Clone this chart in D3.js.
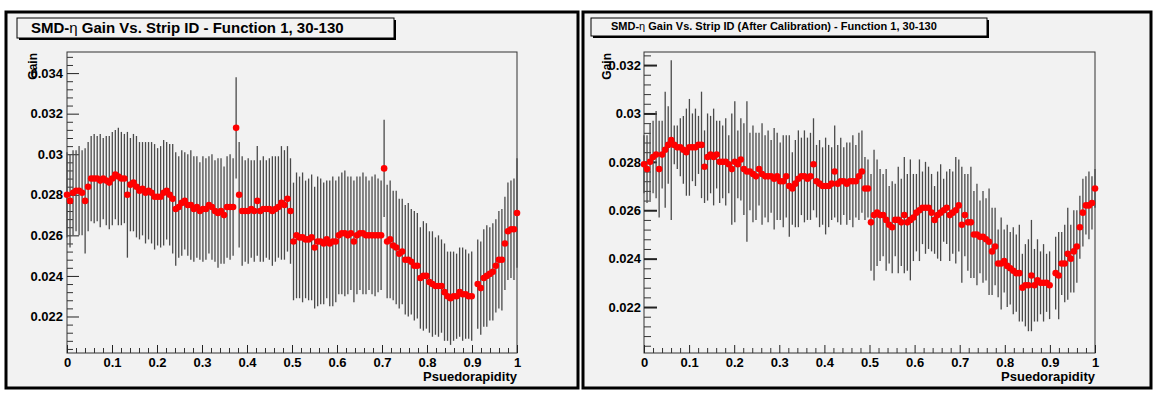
<!DOCTYPE html>
<html><head><meta charset="utf-8">
<script src="https://cdn.jsdelivr.net/npm/d3@7"></script>
<style>
body{margin:0;background:#fff}
svg{display:block}
text{font-family:"Liberation Sans",Arial,Helvetica,sans-serif;font-weight:bold;fill:#000}
</style>
</head><body>
<svg id="chart" width="1154" height="393"></svg>
<script>
// ---------------- data ----------------
const leftTitle = ["SMD-", "η", " Gain Vs. Strip ID - Function 1, 30-130"];
const rightTitle = ["SMD-", "η", " Gain Vs. Strip ID (After Calibration) - Function 1, 30-130"];
const xLabel = "Psuedorapidity";
const yLabel = "Gain";
const xTickValues = [0, 0.1, 0.2, 0.3, 0.4, 0.5, 0.6, 0.7, 0.8, 0.9, 1];
const xTickLabels = ["0", "0.1", "0.2", "0.3", "0.4", "0.5", "0.6", "0.7", "0.8", "0.9", "1"];
const leftYTickValues = [0.022, 0.024, 0.026, 0.028, 0.030, 0.032, 0.034];
const leftYTickLabels = ["0.022", "0.024", "0.026", "0.028", "0.03", "0.032", "0.034"];
const rightYTickValues = [0.022, 0.024, 0.026, 0.028, 0.030, 0.032];
const rightYTickLabels = ["0.022", "0.024", "0.026", "0.028", "0.03", "0.032"];
const stripCount = 150; // strips spread over pseudorapidity 0..1

// gain per strip (before calibration)
const leftGain = [
0.0280,0.0277,0.0281,0.0282,0.0282,0.0281,0.0277,0.0284,0.0288,0.0288,0.0288,0.0287,0.0288,0.0287,0.0286,
0.0288,0.0290,0.0289,0.0288,0.0288,0.0280,0.0285,0.0286,0.0284,0.0282,0.0283,0.0281,0.0282,0.0281,0.0279,
0.0279,0.0279,0.0281,0.0282,0.0280,0.0278,0.0273,0.0274,0.0276,0.0277,0.0275,0.0275,0.0273,0.0274,0.0272,
0.0273,0.0273,0.0275,0.0274,0.0272,0.0271,0.0272,0.0270,0.0274,0.0274,0.0274,0.0313,0.0280,0.0272,0.0272,
0.0272,0.0273,0.0272,0.0277,0.0272,0.0273,0.0273,0.0273,0.0272,0.0273,0.0274,0.0276,0.0275,0.0278,0.0272,
0.0257,0.0260,0.0259,0.0259,0.0258,0.0258,0.0259,0.0254,0.0257,0.0257,0.0256,0.0258,0.0256,0.0257,0.0257,
0.0260,0.0261,0.0261,0.0260,0.0261,0.0257,0.0260,0.0261,0.0261,0.0260,0.0260,0.0260,0.0260,0.0260,0.0260,
0.0293,0.0257,0.0258,0.0255,0.0254,0.0251,0.0252,0.0248,0.0248,0.0247,0.0245,0.0245,0.0239,0.0240,0.0240,
0.0237,0.0236,0.0235,0.0235,0.0235,0.0232,0.0230,0.0229,0.0230,0.0230,0.0232,0.0231,0.0231,0.0230,0.0230,
null,0.0236,0.0234,0.0239,0.0240,0.0241,0.0242,0.0245,0.0248,0.0248,0.0256,0.0262,0.0263,0.0263,0.0271
];
const leftErr = [
0.0021,0.0023,0.0021,0.0020,0.0022,0.0021,0.0026,0.0022,0.0021,0.0022,0.0021,0.0023,0.0020,0.0022,0.0023,
0.0023,0.0022,0.0024,0.0023,0.0022,0.0031,0.0023,0.0024,0.0025,0.0024,0.0023,0.0025,0.0024,0.0025,0.0026,
0.0024,0.0025,0.0026,0.0024,0.0025,0.0027,0.0028,0.0025,0.0026,0.0024,0.0025,0.0027,0.0026,0.0025,0.0024,
0.0026,0.0025,0.0024,0.0026,0.0025,0.0027,0.0026,0.0024,0.0025,0.0026,0.0024,0.0025,0.0026,0.0027,0.0025,
0.0026,0.0024,0.0025,0.0027,0.0025,0.0026,0.0024,0.0025,0.0027,0.0026,0.0025,0.0028,0.0027,0.0026,0.0026,
0.0029,0.0031,0.0030,0.0032,0.0029,0.0030,0.0031,0.0030,0.0032,0.0031,0.0030,0.0029,0.0031,0.0032,0.0030,
0.0029,0.0030,0.0031,0.0029,0.0028,0.0030,0.0029,0.0028,0.0030,0.0029,0.0027,0.0029,0.0030,0.0028,0.0027,
0.0024,0.0028,0.0029,0.0027,0.0028,0.0027,0.0026,0.0027,0.0028,0.0026,0.0027,0.0026,0.0025,0.0027,0.0026,
0.0025,0.0026,0.0024,0.0025,0.0023,0.0024,0.0022,0.0023,0.0022,0.0021,0.0022,0.0023,0.0022,0.0021,0.0022,
null,0.0022,0.0023,0.0024,0.0025,0.0023,0.0024,0.0023,0.0024,0.0025,0.0023,0.0024,0.0024,0.0025,0.0027
];

// gain per strip (after calibration)
const rightGain = [
0.0279,0.0277,0.0280,0.0282,0.0283,0.0277,0.0283,0.0285,0.0287,0.0289,0.0287,0.0286,0.0286,0.0285,0.0284,
0.0286,0.0286,0.0286,0.0287,0.0287,0.0278,0.0282,0.0283,0.0282,0.0283,0.0280,0.0280,0.0280,0.0279,0.0277,
0.0280,0.0279,0.0281,0.0277,0.0276,0.0276,0.0275,0.0274,0.0277,0.0275,0.0274,0.0274,0.0274,0.0273,0.0274,
0.0272,0.0272,0.0274,0.0270,0.0269,0.0271,0.0273,0.0274,0.0274,0.0273,0.0274,0.0279,0.0272,0.0271,0.0270,
0.0270,0.0270,0.0271,0.0276,0.0271,0.0272,0.0272,0.0271,0.0272,0.0272,0.0272,0.0274,0.0276,0.0269,0.0269,
0.0255,0.0258,0.0259,0.0258,0.0258,0.0256,0.0254,0.0253,0.0256,0.0256,0.0255,0.0258,0.0255,0.0256,0.0257,
0.0259,0.0260,0.0261,0.0261,0.0261,0.0259,0.0256,0.0258,0.0259,0.0260,0.0261,0.0258,0.0259,0.0260,0.0262,
0.0254,0.0258,0.0255,0.0255,0.0250,0.0250,0.0249,0.0249,0.0248,0.0247,0.0243,0.0245,0.0238,0.0238,0.0239,
0.0237,0.0236,0.0235,0.0234,0.0234,0.0228,0.0229,0.0229,0.0233,0.0229,0.0231,0.0230,0.0230,0.0230,0.0229,
null,0.0234,0.0233,0.0238,0.0238,0.0242,0.0240,0.0243,0.0245,0.0253,0.0259,0.0262,0.0262,0.0263,0.0269
];
const rightErr = [
0.0012,0.0014,0.0016,0.0015,0.0018,0.0020,0.0014,0.0024,0.0016,0.0033,0.0008,0.0009,0.0012,0.0014,0.0018,
0.0020,0.0014,0.0016,0.0012,0.0022,0.0015,0.0018,0.0016,0.0020,0.0014,0.0017,0.0015,0.0018,0.0012,0.0023,
0.0025,0.0014,0.0017,0.0019,0.0029,0.0016,0.0020,0.0018,0.0015,0.0021,0.0017,0.0019,0.0015,0.0021,0.0018,
0.0016,0.0019,0.0017,0.0021,0.0015,0.0018,0.0020,0.0016,0.0019,0.0017,0.0018,0.0019,0.0015,0.0018,0.0016,
0.0020,0.0017,0.0015,0.0019,0.0016,0.0018,0.0014,0.0017,0.0016,0.0019,0.0015,0.0018,0.0017,0.0013,0.0012,
0.0020,0.0027,0.0022,0.0019,0.0017,0.0021,0.0016,0.0019,0.0015,0.0022,0.0018,0.0024,0.0020,0.0025,0.0018,
0.0016,0.0021,0.0015,0.0019,0.0017,0.0016,0.0014,0.0018,0.0020,0.0013,0.0015,0.0019,0.0017,0.0022,0.0019,
0.0024,0.0017,0.0020,0.0023,0.0018,0.0021,0.0015,0.0019,0.0017,0.0022,0.0018,0.0016,0.0014,0.0019,0.0013,
0.0017,0.0015,0.0018,0.0016,0.0020,0.0014,0.0017,0.0019,0.0023,0.0015,0.0017,0.0013,0.0016,0.0012,0.0014,
null,0.0015,0.0018,0.0013,0.0016,0.0019,0.0014,0.0017,0.0015,0.0013,0.0014,0.0012,0.0014,0.0011,0.0008
];

// ---------------- drawing ----------------
const svg = d3.select("#chart");
const stripToEta = d3.scaleLinear().domain([0, stripCount - 1]).range([0, 1]);

function drawPanel(cfg, gain, err, yTickValues, yTickLabels, titleParts) {
  const g = svg.append("g");
  // canvas
  g.append("rect").attr("x", cfg.px).attr("y", cfg.py).attr("width", cfg.pw).attr("height", cfg.ph)
    .attr("fill", "#f2f2f2").attr("stroke", "#000").attr("stroke-width", 3);
  // title box
  g.append("rect").attr("x", cfg.tb[0] + 2).attr("y", cfg.tb[1] + 2).attr("width", cfg.tb[2]).attr("height", cfg.tb[3]).attr("fill", "#000");
  g.append("rect").attr("x", cfg.tb[0]).attr("y", cfg.tb[1]).attr("width", cfg.tb[2]).attr("height", cfg.tb[3])
    .attr("fill", "#f2f2f2").attr("stroke", "#000").attr("stroke-width", 1);
  const t = g.append("text").attr("x", cfg.tx).attr("y", cfg.ty).style("font-size", cfg.tfs + "px");
  titleParts.forEach((s, i) => {
    const ts = t.append("tspan").text(s);
    if (i === 1) ts.style("font-weight", "normal");
  });

  const x = d3.scaleLinear().domain([0, 1]).range([cfg.x0, cfg.x1]);
  const y = d3.scaleLinear().domain(cfg.yDomain).range([cfg.yB, cfg.yT]);

  // frame
  g.append("rect").attr("x", cfg.x0).attr("y", cfg.yT).attr("width", cfg.x1 - cfg.x0).attr("height", cfg.yB - cfg.yT)
    .attr("fill", "none").attr("stroke", "#333").attr("stroke-width", 1);

  // minor ticks
  const yMinor = d3.range(0, 60).map(k => +(0.0200 + k * 0.0004).toFixed(4))
    .filter(v => v > cfg.yDomain[0] && v < cfg.yDomain[1] && !yTickValues.some(m => Math.abs(m - v) < 1e-7));
  const xMinor = d3.range(0, 51).map(k => +(k * 0.02).toFixed(2)).filter(v => !xTickValues.some(m => Math.abs(m - v) < 1e-7));

  g.append("g").attr("transform", `translate(${cfg.x0},0)`)
    .call(d3.axisLeft(y).tickValues(yMinor).tickSize(-cfg.yMinorLen).tickFormat(""))
    .call(a => a.select(".domain").remove())
    .call(a => a.selectAll("line").attr("stroke", "#333"));
  g.append("g").attr("transform", `translate(${cfg.x0},0)`)
    .call(d3.axisLeft(y).tickValues(yTickValues).tickSize(-cfg.yMajorLen).tickPadding(cfg.yPad)
      .tickFormat((d, i) => yTickLabels[i]))
    .call(a => a.select(".domain").remove())
    .call(a => a.selectAll("line").attr("stroke", "#222").attr("stroke-width", cfg.yMajorW))
    .call(a => a.selectAll("text").style("font-size", cfg.yfs + "px").style("font-family", null).attr("fill", "#000"));

  g.append("g").attr("transform", `translate(0,${cfg.yB})`)
    .call(d3.axisBottom(x).tickValues(xMinor).tickSize(-5).tickFormat(""))
    .call(a => a.select(".domain").remove())
    .call(a => a.selectAll("line").attr("stroke", "#333"));
  g.append("g").attr("transform", `translate(0,${cfg.yB})`)
    .call(d3.axisBottom(x).tickValues(xTickValues).tickSize(-8).tickPadding(5)
      .tickFormat((d, i) => xTickLabels[i]))
    .call(a => a.select(".domain").remove())
    .call(a => a.selectAll("line").attr("stroke", "#222"))
    .call(a => a.selectAll("text").style("font-size", "13px").style("font-family", null).attr("fill", "#000"));

  // axis titles
  g.append("text").attr("x", cfg.x1).attr("y", cfg.xlY).attr("text-anchor", "end")
    .style("font-size", "13px").text(xLabel);
  g.append("text").attr("transform", `translate(${cfg.ylX},${cfg.yT + 1}) rotate(-90)`).attr("text-anchor", "end")
    .style("font-size", "12px").text(yLabel);

  const pts = gain.map((v, i) => ({ eta: stripToEta(i), v, e: err[i] })).filter(d => d.v != null);

  g.append("g").selectAll("line").data(pts).join("line")
    .attr("x1", d => x(d.eta)).attr("x2", d => x(d.eta))
    .attr("y1", d => y(d.v + d.e)).attr("y2", d => y(d.v - d.e))
    .attr("stroke", "#4a4a4a").attr("stroke-width", 1.3);
  g.append("g").selectAll("circle").data(pts).join("circle")
    .attr("cx", d => x(d.eta)).attr("cy", d => y(d.v)).attr("r", 3.3)
    .attr("fill", "#ff0000");
}

drawPanel({
  px: 6, py: 12, pw: 572, ph: 376,
  tb: [17, 18, 377, 20], tx: 31, ty: 33, tfs: 15,
  x0: 67, x1: 517, yT: 52, yB: 353, yDomain: [0.02020, 0.03504],
  yMajorLen: 12, yMinorLen: 6, yMajorW: 1, yPad: 4, yfs: 13,
  xlY: 381, ylX: 37
}, leftGain, leftErr, leftYTickValues, leftYTickLabels, leftTitle);

drawPanel({
  px: 583, py: 12, pw: 568, ph: 376,
  tb: [591, 18, 396, 18], tx: 611, ty: 30, tfs: 11,
  x0: 644, x1: 1095, yT: 52, yB: 353, yDomain: [0.02010, 0.03254],
  yMajorLen: 13, yMinorLen: 7, yMajorW: 2, yPad: 3, yfs: 13,
  xlY: 381, ylX: 611
}, rightGain, rightErr, rightYTickValues, rightYTickLabels, rightTitle);
</script>
</body></html>
